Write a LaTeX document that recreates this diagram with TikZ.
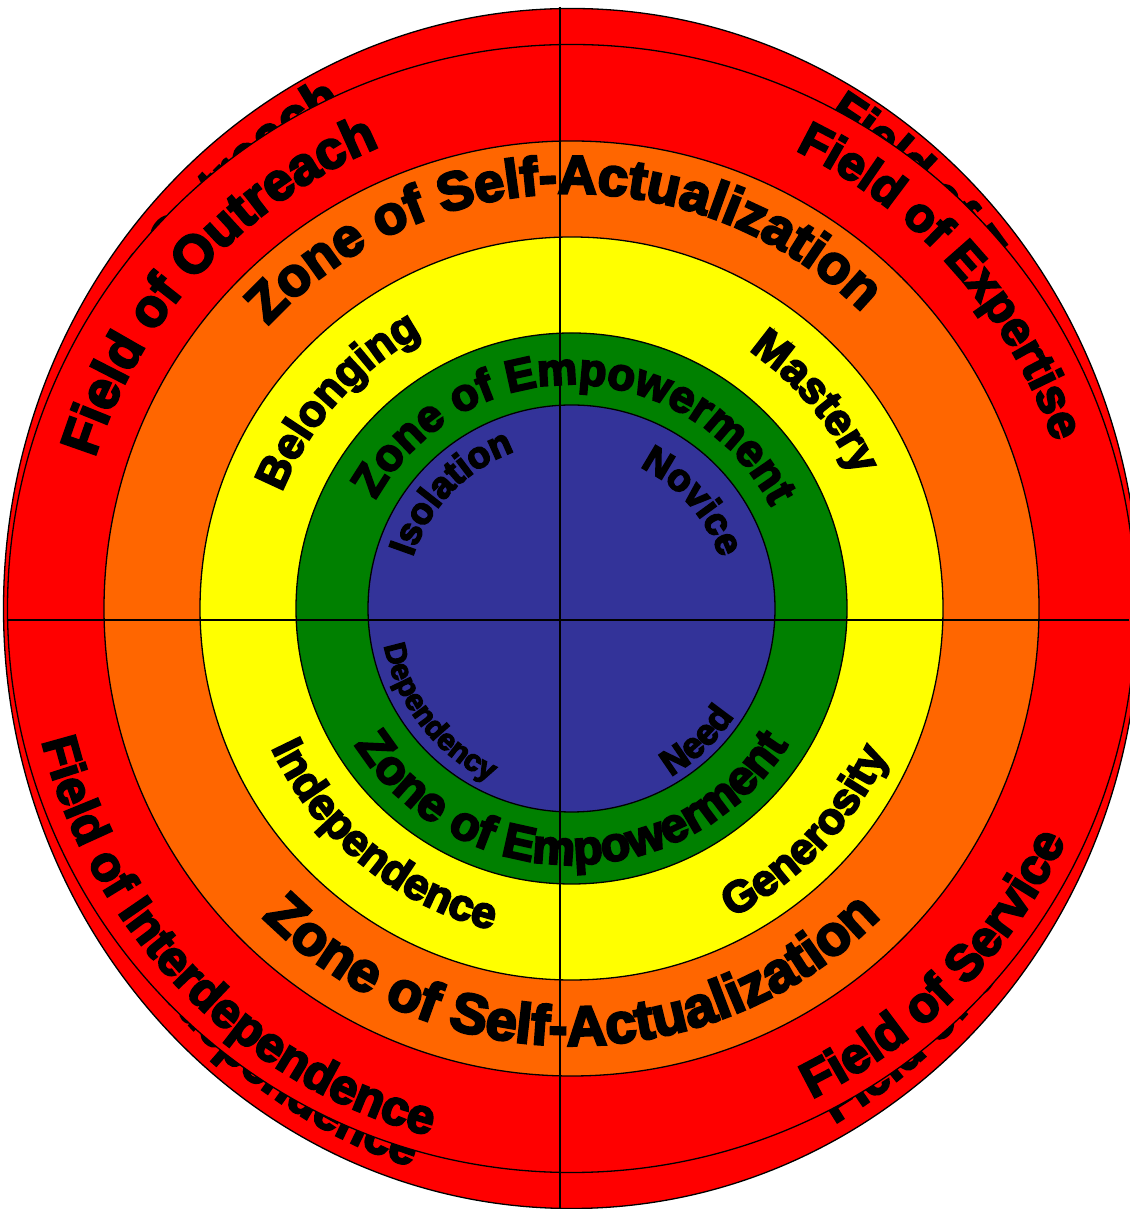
\documentclass[tikz,border=0pt]{standalone}
\usepackage{fontspec}
\newfontfamily\heavy{Liberation Sans}[UprightFont={* Bold},FakeBold=4.5]
\usetikzlibrary{decorations.text}
\definecolor{cred}{HTML}{FF0000}
\definecolor{corange}{HTML}{FF6600}
\definecolor{cyellow}{HTML}{FFFF00}
\definecolor{cgreen}{HTML}{008000}
\definecolor{cblue}{HTML}{333399}
\tikzset{
  ring/.style={draw=black,line width=1.3pt},
  axisline/.style={draw=black,line width=2pt},
}
% centre of the rings: (571.5,600.5)
\newcommand\TopText[5]{% #1 centre angle, #2 x radius, #3 y radius, #4 size, #5 text
  \pgfmathsetmacro\myS{#1+85}\pgfmathsetmacro\myE{#1-85}%
  \pgfmathsetmacro\myX{571.5+#2*cos(\myS)}\pgfmathsetmacro\myY{600.5+#3*sin(\myS)}%
  \path[decorate,decoration={text along path,text align=center,
     text={|\heavy\fontsize{#4}{#4}\selectfont|#5}}]
     (\myX,\myY) arc[start angle=\myS,end angle=\myE,x radius=#2,y radius=#3];}
\newcommand\BotText[5]{%
  \pgfmathsetmacro\myS{#1-85}\pgfmathsetmacro\myE{#1+85}%
  \pgfmathsetmacro\myX{571.5+#2*cos(\myS)}\pgfmathsetmacro\myY{600.5+#3*sin(\myS)}%
  \path[decorate,decoration={text along path,text align=center,
     text={|\heavy\fontsize{#4}{#4}\selectfont|#5}}]
     (\myX,\myY) arc[start angle=\myS,end angle=\myE,x radius=#2,y radius=#3];}
\begin{document}
\begin{tikzpicture}[x=1pt,y=1pt]
\useasboundingbox (0,0) rectangle (1129,1209);
\coordinate (C) at (571.5,600.5);
% ghost outer ring (stretched copy behind the red ring)
\path[ring,fill=cred] (C) ellipse[x radius=568,y radius=600];
\begin{scope}
  \clip (C) ellipse[x radius=567,y radius=599];
  \TopText{137.5}{505}{562}{53}{Field of Outreach}
  \TopText{41.5}{515}{566}{48}{Field of Expertise}
  \BotText{315.5}{546}{588}{50}{Field of Service}
  \BotText{225}{546}{584}{49}{Field of Interdependence}
\end{scope}
% rings
\path[ring,fill=cred] (C) circle[radius=564];
\path[ring,fill=corange] (C) circle[radius=467.5];
\path[ring,fill=cyellow] (C) circle[radius=371.5];
\path[ring,fill=cgreen] (C) circle[radius=275.5];
\path[ring,fill=cblue] (C) circle[radius=203.5];
% cross lines
\coordinate (vt) at (560,1202);
\coordinate (vb) at (560,0);
\coordinate (hl) at (8,589);
\coordinate (hr) at (1129,589);
\draw[axisline] (vt) -- (vb);
\draw[axisline] (hl) -- (hr);
% outer red ring
\TopText{137.5}{500}{500}{53}{Field of Outreach}
\TopText{41.5}{510}{510}{48}{Field of Expertise}
\BotText{315.5}{546}{546}{50}{Field of Service}
\BotText{224.5}{546}{546}{49}{Field of Interdependence}
% orange ring
\TopText{91.3}{415}{415}{54}{Zone of Self-Actualization}
\BotText{270}{437}{437}{56}{Zone of Self-Actualization}
% yellow ring
\TopText{138.4}{312}{312}{44}{Belonging}
\TopText{40.3}{313}{313}{44}{Mastery}
\BotText{230.5}{331}{331}{44}{Independence}
\BotText{316.4}{348}{348}{44}{Generosity}
% green ring
\TopText{89}{224}{224}{45}{Zone of Empowerment}
\BotText{270}{256}{256}{48}{Zone of Empowerment}
% blue disc
\TopText{136}{167}{167}{37}{Isolation}
\TopText{41.5}{157}{157}{38}{Novice}
\BotText{218}{191}{191}{30}{Dependency}
\BotText{313.5}{195}{195}{36}{Need}
\end{tikzpicture}
\end{document}
